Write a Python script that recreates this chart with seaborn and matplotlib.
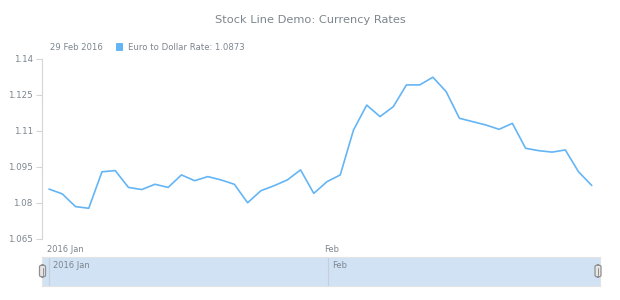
import numpy as np
import pandas as pd
import matplotlib
matplotlib.use("Agg")
import matplotlib.pyplot as plt
from matplotlib.patches import FancyBboxPatch
import seaborn as sns

# ---- data ----
dates = [
    "2016-01-01", "2016-01-04", "2016-01-05", "2016-01-06", "2016-01-07", "2016-01-08",
    "2016-01-11", "2016-01-12", "2016-01-13", "2016-01-14", "2016-01-15",
    "2016-01-18", "2016-01-19", "2016-01-20", "2016-01-21", "2016-01-22",
    "2016-01-25", "2016-01-26", "2016-01-27", "2016-01-28", "2016-01-29",
    "2016-02-01", "2016-02-02", "2016-02-03", "2016-02-04", "2016-02-05",
    "2016-02-08", "2016-02-09", "2016-02-10", "2016-02-11", "2016-02-12",
    "2016-02-15", "2016-02-16", "2016-02-17", "2016-02-18", "2016-02-19",
    "2016-02-22", "2016-02-23", "2016-02-24", "2016-02-25", "2016-02-26",
    "2016-02-29",
]
rates = [
    1.0858, 1.0838, 1.0785, 1.0778, 1.0930, 1.0935,
    1.0865, 1.0856, 1.0878, 1.0865, 1.0917,
    1.0893, 1.0910, 1.0896, 1.0878, 1.0801,
    1.0851, 1.0872, 1.0896, 1.0938, 1.0840,
    1.0889, 1.0917, 1.1104, 1.1208, 1.1160,
    1.1201, 1.1292, 1.1292, 1.1324, 1.1264,
    1.1153, 1.1139, 1.1125, 1.1107, 1.1132,
    1.1028, 1.1018, 1.1012, 1.1021, 1.0930,
    1.0873,
]
series_name = "Euro to Dollar Rate"
title = "Stock Line Demo: Currency Rates"
y_ticks = [1.065, 1.08, 1.095, 1.11, 1.125, 1.14]
y_tick_labels = ["1.065", "1.08", "1.095", "1.11", "1.125", "1.14"]
month_labels = ["2016 Jan", "Feb"]

df = pd.DataFrame({"date": pd.to_datetime(dates), "rate": rates})
df["pos"] = np.arange(len(df))
month_start = df.groupby(df["date"].dt.month)["pos"].min().tolist()

# ---- style ----
sns.set_theme(style="white")
plt.rcParams["font.family"] = ["DejaVu Sans"]
TXT = "#7c868e"
LINE = "#64b5f6"

W, H = 620, 300
fig = plt.figure(figsize=(W / 100, H / 100), dpi=100)
fig.patch.set_facecolor("white")

def frac(x0, y0, x1, y1):
    return [x0 / W, 1 - y1 / H, (x1 - x0) / W, (y1 - y0) / H]

ax = fig.add_axes(frac(42.4, 59, 598.4, 239))
sns.lineplot(data=df, x="pos", y="rate", ax=ax, color=LINE, linewidth=1.2)
ax.set_xlim(-0.5, len(df) - 0.5)
ax.set_ylim(y_ticks[0], y_ticks[-1])
ax.set_yticks(y_ticks)
ax.set_yticklabels(y_tick_labels)
ax.set_xlabel("")
ax.set_ylabel("")
ax.set_xticks([])
for s in ["top", "right", "bottom"]:
    ax.spines[s].set_visible(False)
ax.spines["left"].set_color("#d5d5d5")
ax.spines["left"].set_linewidth(0.8)
ax.tick_params(axis="y", which="both", left=True, length=4, width=0.8,
               color="#d5d5d5", labelsize=6.3, labelcolor=TXT, pad=3)

# month labels under the plot (at month boundaries)
for lab, p in zip(month_labels, month_start):
    ax.annotate(lab, xy=(p - 0.5, 0), xycoords=("data", "axes fraction"),
                xytext=(3, -4), textcoords="offset points",
                ha="left", va="top", fontsize=6.0, color=TXT)

# title
fig.text(0.5, 1 - 20 / H, title, ha="center", va="center", fontsize=8.2, color=TXT)

# legend line
last_date = df["date"].iloc[-1]
fig.text(50 / W, 1 - 47 / H, f"{last_date.day} {last_date.strftime('%b %Y')}",
         ha="left", va="center", fontsize=6.1, color=TXT)
fig.patches.append(FancyBboxPatch((116 / W, 1 - 51 / H), 7 / W, 8 / H,
                                  boxstyle="round,pad=0,rounding_size=0.002",
                                  transform=fig.transFigure, facecolor=LINE,
                                  edgecolor="none"))
fig.text(128 / W, 1 - 47 / H, f"{series_name}: {rates[-1]:.4f}",
         ha="left", va="center", fontsize=6.1, color=TXT)

# navigator
nav = fig.add_axes(frac(42, 257, 600, 286))
nav.set_xlim(-0.5, len(df) - 0.5)
nav.set_ylim(0, 1)
nav.set_facecolor("#d1e2f4")
for s in nav.spines.values():
    s.set_color("#e3e3e3")
    s.set_linewidth(0.8)
nav.set_xticks([])
nav.set_yticks([])
for lab, p in zip(month_labels, month_start):
    nav.axvline(p, color="#c3cfdc", linewidth=0.8)
    nav.annotate(lab, xy=(p, 1), xycoords=("data", "axes fraction"),
                 xytext=(3, -3), textcoords="offset points",
                 ha="left", va="top", fontsize=6.0, color=TXT)

# handles
for hx in (42.5, 598):
    fig.patches.append(FancyBboxPatch(((hx - 3) / W, 1 - 277 / H), 6 / W, 12 / H,
                                      boxstyle="round,pad=0,rounding_size=0.006",
                                      transform=fig.transFigure,
                                      facecolor="#e6e6e6", edgecolor="#8f8f8f",
                                      linewidth=0.9, zorder=5))
    fig.lines.append(plt.Line2D([hx / W, hx / W], [1 - 274.5 / H, 1 - 267.5 / H],
                                transform=fig.transFigure, color="#8f8f8f",
                                linewidth=0.7, zorder=6))

fig.savefig("out.png", dpi=100, facecolor="white")
